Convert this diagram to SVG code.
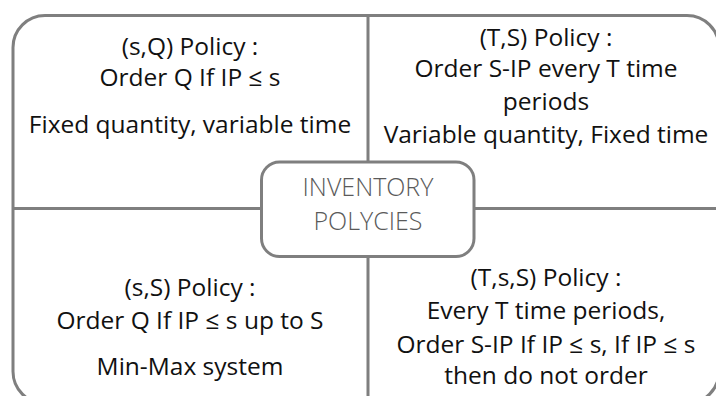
<svg xmlns="http://www.w3.org/2000/svg" width="716" height="396" viewBox="0 0 716 396">
  <style>
    .frame { fill: #ffffff; stroke: #7f7f7f; stroke-width: 3; }
    .divider { stroke: #7f7f7f; stroke-width: 3; fill: none; }
    .t { font-family: "Open Sans", "Liberation Sans", sans-serif; font-size: 24.5px; fill: #111111; text-anchor: middle; }
    .c { font-family: "Open Sans", "Liberation Sans", sans-serif; font-size: 25px; font-weight: 300; fill: #5a5a5a; text-anchor: middle; }
  </style>
  <rect width="716" height="396" fill="#ffffff"/>
  <g id="frame">
    <rect class="frame" x="13" y="15.5" width="706" height="388" rx="32" ry="32"/>
  </g>
  <g id="connectors">
    <line class="divider" x1="368" y1="15.5" x2="368" y2="396"/>
    <line class="divider" x1="13" y1="208.5" x2="719" y2="208.5"/>
  </g>
  <g id="sQ-policy">
    <text class="t" x="190" y="55">(s,Q) Policy :</text>
    <text class="t" x="190" y="86">Order Q If IP ≤ s</text>
    <text class="t" x="190" y="133">Fixed quantity, variable time</text>
  </g>
  <g id="TS-policy">
    <text class="t" x="546" y="46">(T,S) Policy :</text>
    <text class="t" x="546" y="77">Order S-IP every T time</text>
    <text class="t" x="546" y="110">periods</text>
    <text class="t" x="546" y="143">Variable quantity, Fixed time</text>
  </g>
  <g id="sS-policy">
    <text class="t" x="190" y="296">(s,S) Policy :</text>
    <text class="t" x="190" y="329">Order Q If IP ≤ s up to S</text>
    <text class="t" x="190" y="375">Min-Max system</text>
  </g>
  <g id="TsS-policy">
    <text class="t" x="546" y="286">(T,s,S) Policy :</text>
    <text class="t" x="546" y="319">Every T time periods,</text>
    <text class="t" x="546" y="353">Order S-IP If IP ≤ s, If IP ≤ s</text>
    <text class="t" x="546" y="384">then do not order</text>
  </g>
  <g id="inventory-policies">
    <rect class="frame" x="261.5" y="162" width="212.5" height="94.5" rx="18" ry="18"/>
    <text class="c" x="368" y="196">INVENTORY</text>
    <text class="c" x="368" y="230">POLYCIES</text>
  </g>
</svg>
